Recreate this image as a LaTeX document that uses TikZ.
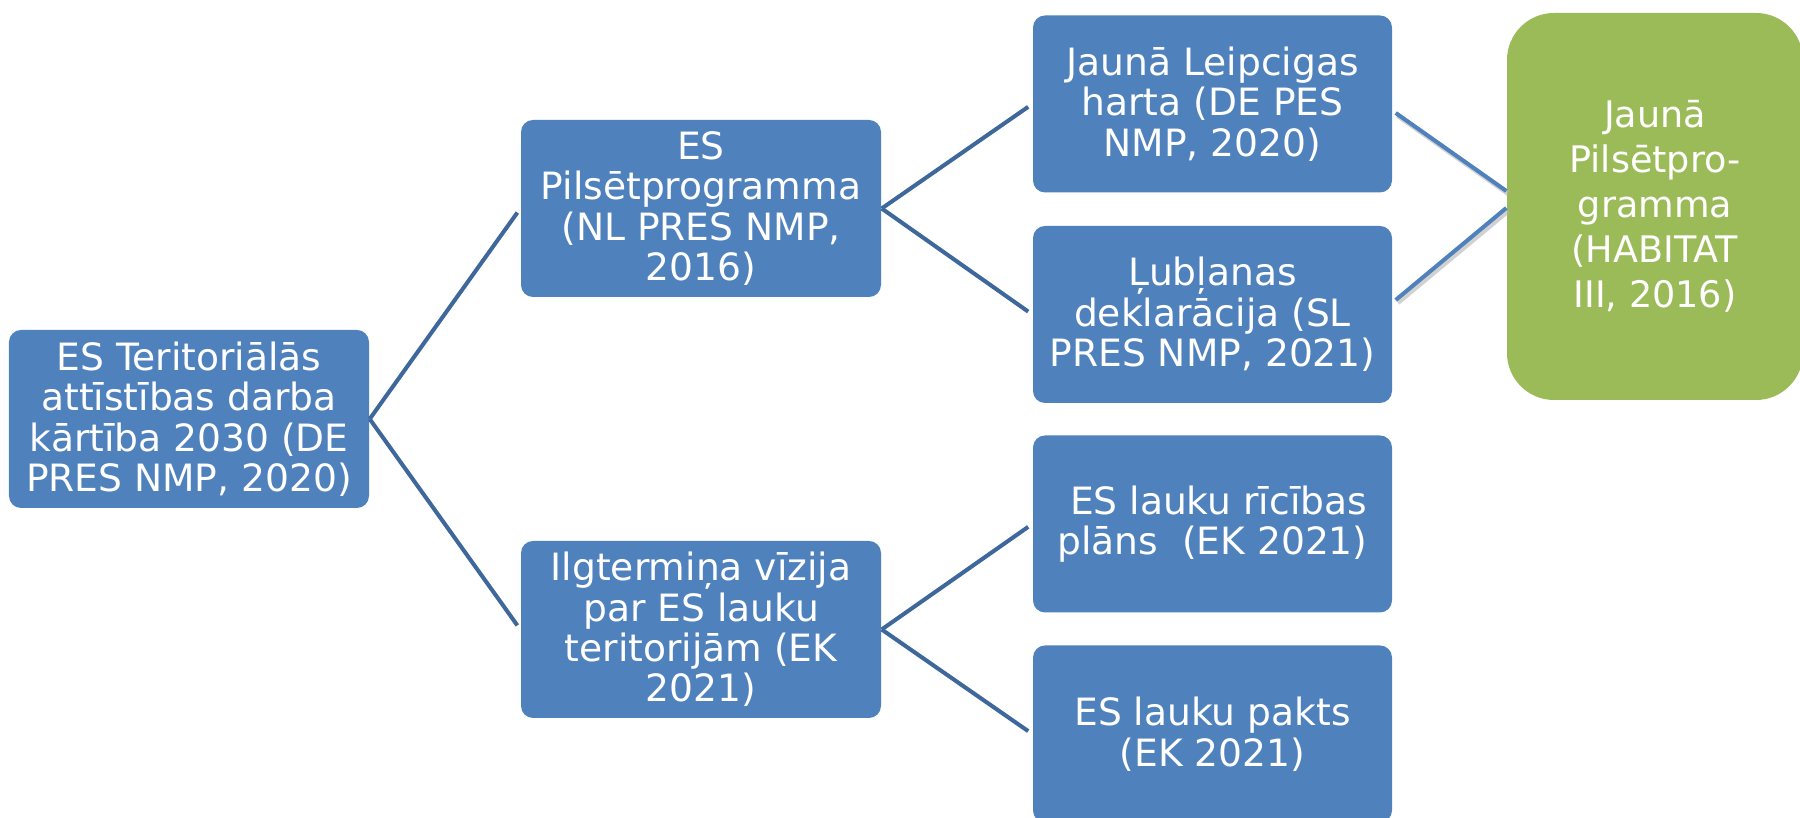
\documentclass[tikz,border=0pt]{standalone}
\usepackage{fontspec}
\setmainfont{DejaVu Sans}
\usepackage{xcolor}
\definecolor{boxblue}{RGB}{79,129,189}
\definecolor{boxgreen}{RGB}{155,187,89}
\definecolor{linkblue}{RGB}{62,104,156}
\tikzset{
  docbox/.style={fill=boxblue, text=white, rounded corners=0.12cm, minimum width=3.6cm,
    minimum height=1.77cm, align=center, inner sep=0pt, font=\fontsize{10.7}{11.5}\selectfont},
  goalbox/.style={fill=boxgreen, text=white, rounded corners=0.47cm, minimum width=2.96cm,
    minimum height=3.87cm, align=center, inner sep=0pt, font=\fontsize{10.4}{12.8}\selectfont},
  link/.style={draw=linkblue, line width=1.15pt, shorten >=0.05cm},
  goallink/.style={draw=boxblue, line width=1.15pt},
  goalshadow/.style={draw=black!30, line width=1.5pt, opacity=0.6}
}

\begin{document}
\begin{tikzpicture}
  \useasboundingbox (0,0) rectangle (18,-8.18);

  % Agenda and its two branches
  \node[docbox, minimum height=1.78cm] (agenda) at (1.89,-4.19) {ES Teritoriālās\\attīstības darba\\kārtība 2030 (DE\\PRES NMP, 2020)};
  \node[docbox] (urban) at (7.01,-2.085) {ES\\Pilsētprogramma\\(NL PRES NMP,\\2016)};
  \node[docbox] (rural) at (7.01,-6.295) {Ilgtermiņa vīzija\\par ES lauku\\teritorijām (EK\\2021)};

  % Documents
  \node[docbox, minimum width=3.59cm] (leipzig) at (12.125,-1.04) {Jaunā Leipcigas\\harta (DE PES\\NMP, 2020)};
  \node[docbox, minimum width=3.59cm] (ljubljana) at (12.125,-3.145) {Ļubļanas\\deklarācija (SL\\PRES NMP, 2021)};
  \node[docbox, minimum width=3.59cm] (ruralplan) at (12.125,-5.24) {\ ES lauku rīcības\\plāns\ \ (EK 2021)};
  \node[docbox, minimum width=3.59cm] (ruralpact) at (12.125,-7.34) {ES lauku pakts\\(EK 2021)};

  % Global agenda
  \node[goalbox] (habitat) at (16.55,-2.065) {Jaunā\\Pilsētpro-\\gramma\\(HABITAT\\III, 2016)};

  % Connectors
  \foreach \from/\to in {agenda/urban, agenda/rural, urban/leipzig, urban/ljubljana, rural/ruralplan, rural/ruralpact}
    \draw[link] (\from.east) -- (\to.west);

  \begin{scope}[transform canvas={shift={(0.02,-0.025)}}]
    \draw[goalshadow] ([shift={(0.03,-0.09)}]leipzig.east) -- ([yshift=0.155cm]habitat.west);
    \draw[goalshadow] ([shift={(0.03,0.145)}]ljubljana.east) -- ([yshift=-0.015cm]habitat.west);
  \end{scope}
  \draw[goallink] ([shift={(0.03,-0.09)}]leipzig.east) -- ([yshift=0.155cm]habitat.west);
  \draw[goallink] ([shift={(0.03,0.145)}]ljubljana.east) -- ([yshift=-0.015cm]habitat.west);
\end{tikzpicture}
\end{document}
